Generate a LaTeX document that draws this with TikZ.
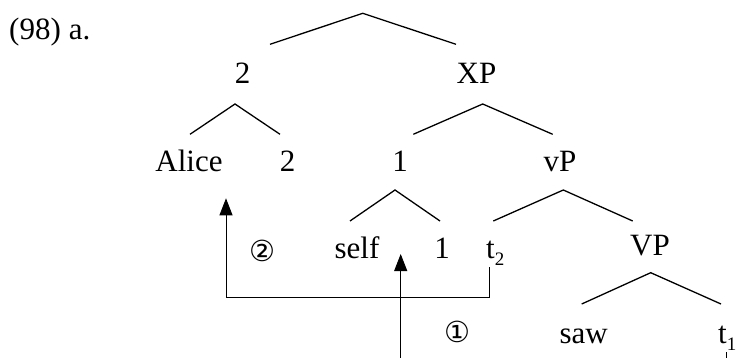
\documentclass[tikz,border=0pt]{standalone}
\usepackage{fontspec}
\setmainfont{Liberation Serif}
\newfontfamily\circfont{DejaVu Sans}
\usetikzlibrary{arrows.meta, calc}

\newcommand{\trsub}[1]{\raisebox{-7pt}{\fontsize{19}{19}\selectfont #1}}

\tikzset{
  lbl/.style={anchor=base, inner sep=0pt},
  branch/.style={line width=1.3pt},
  move/.style={line width=0.9pt, -{Triangle[length=17pt,width=13pt]}},
  stepno/.style={inner sep=0pt, font=\circfont\fontsize{29}{29}\selectfont}
}

\begin{document}
\begin{tikzpicture}[x=1pt, y=-1pt, font=\fontsize{31}{31}\selectfont]
  \useasboundingbox (0,0) rectangle (736,358);

  \node[anchor=base west, inner sep=0pt] (ex) at (9,40) {(98)\hspace{8pt}a.};

  % words of the tree, by baseline
  \foreach \n/\x/\y/\t in {two/242.5/83.3/2, XP/476.5/83.3/XP,
      Alice/189/171.7/Alice, twoB/287.5/171.7/2, one/400/171.7/1, vP/560/171.7/vP,
      self/357/258.3/self, oneB/442/258.3/1, VP/650/255/VP,
      saw/583.7/343.3/saw} {
    \node[lbl] (\n) at (\x,\y) {\t};
  }
  \node[lbl, anchor=base west] (t2) at (486,258.3) {t\trsub{2}};
  \node[lbl, anchor=base west] (t1) at (718,343.3) {t\trsub{1}};

  % branchings: apex, then left and right feet
  \foreach \n/\ax/\ay/\lx/\rx/\fy in {root/362.7/13.3/270/456/44.3,
      two/235/104/190/280/134.3, XP/482.7/104/413.3/552.7/134.3,
      one/395/190/350/440/221, vP/563.3/190/493.3/632.7/221,
      VP/650.7/272.7/581.7/721/304} {
    \coordinate (\n-a) at (\ax,\ay);
    \coordinate (\n-l) at (\lx,\fy);
    \coordinate (\n-r) at (\rx,\fy);
    \draw[branch] (\n-l) -- (\n-a) -- (\n-r);
  }

  % movement arrows
  \coordinate (t2-foot) at (489.3,267.3);
  \coordinate (Alice-land) at (226,198.3);
  \draw[move] (t2-foot) -- (489.3,297.3) -| (Alice-land);
  \coordinate (t1-foot) at (400.7,358);
  \coordinate (self-land) at (400.7,254);
  \draw[move] (t1-foot) -- (self-land);
  \coordinate (t1-tick) at (726,352);
  \draw[line width=0.9pt] (t1-tick) -- ++(0,6);

  \node[stepno] (step1) at (457.3,332) {①};
  \node[stepno] (step2) at (262,251) {②};
\end{tikzpicture}
\end{document}
